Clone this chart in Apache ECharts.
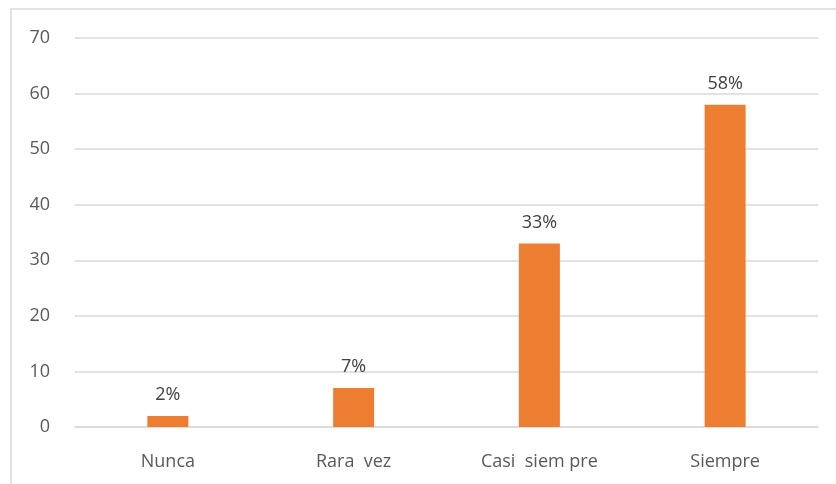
<!DOCTYPE html>
<html><head><meta charset="utf-8">
<script src="https://cdn.jsdelivr.net/npm/echarts@6/dist/echarts.min.js"></script>
<style>html,body{margin:0;padding:0;background:#fff}#c{width:836px;height:484px}</style>
</head><body><div id="c"></div>
<script>
var categories = ["Nunca", "Rara  vez", "Casi  siem pre", "Siempre"];
var values = [2, 7, 33, 58];
var valueLabels = ["2%", "7%", "33%", "58%"];
var yTicks = [0, 10, 20, 30, 40, 50, 60, 70];

var chart = echarts.init(document.getElementById('c'));
var font = 'Open Sans, Liberation Sans, sans-serif';
chart.setOption({
  animation: false,
  graphic: [{
    type: 'rect', shape: {x: 11, y: 9, width: 900, height: 600},
    style: {fill: 'none', stroke: '#d9d9d9', lineWidth: 1.5}, silent: true
  }],
  grid: {left: 75, right: 18, top: 38, bottom: 57},
  xAxis: {
    type: 'category', data: categories,
    axisLine: {lineStyle: {color: '#d9d9d9', width: 1.5}},
    axisTick: {show: false},
    axisLabel: {color: '#595959', fontSize: 18, fontFamily: font, margin: 26}
  },
  yAxis: {
    type: 'value', min: yTicks[0], max: yTicks[yTicks.length - 1], interval: 10,
    axisLine: {show: false}, axisTick: {show: false},
    splitLine: {lineStyle: {color: '#d9d9d9', width: 1.5}},
    axisLabel: {color: '#595959', fontSize: 18, fontFamily: font, margin: 25}
  },
  series: [{
    type: 'bar', data: values, barWidth: 41,
    itemStyle: {color: '#ed7d31'},
    label: {
      show: true, position: 'top', distance: 12,
      color: '#404040', fontSize: 18, fontFamily: font,
      formatter: function (p) { return valueLabels[p.dataIndex]; }
    }
  }]
});
</script></body></html>
